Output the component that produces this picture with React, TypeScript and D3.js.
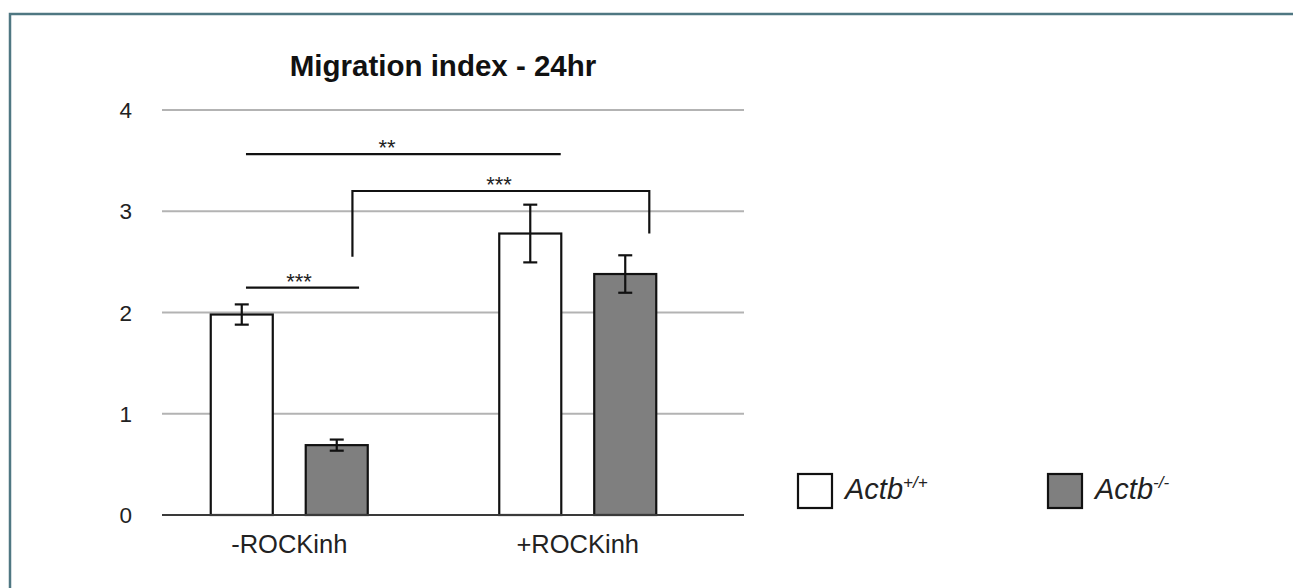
import * as d3 from 'd3';

// chart data
const categories = ['-ROCKinh', '+ROCKinh'];
const genotypes = ['wt', 'ko'];
const wtValues = [1.98, 2.78];
const wtErrors = [0.1, 0.285];
const koValues = [0.69, 2.38];
const koErrors = [0.055, 0.185];
const yTicks = [0, 1, 2, 3, 4];

// significance annotations, x in category units (0..2), y in data units
const sigLines = [
  { x1: 0.35, x2: 0.742, y: 2.245, label: '***', lx: 0.534 },
  { x1: 0.35, x2: 1.441, y: 3.565, label: '**', lx: 0.839 },
];
const sigBrackets = [
  { x1: 0.719, x2: 1.748, y: 3.2, yLeft: 2.55, yRight: 2.78, label: '***', lx: 1.227 },
];

const W = 1293;
const H = 588;
const FONT = '"Liberation Sans", Arial, sans-serif';

export default function App() {
  const y = d3.scaleLinear().domain([0, 4]).range([515, 110]);
  const x = d3.scaleBand().domain(categories).range([145, 722]);
  const xPos = d3.scaleLinear().domain([0, 2]).range([145, 722]);
  const sub = d3.scaleBand().domain(genotypes).range([-78.5, 78.5]).paddingInner(0.347);

  const gridX1 = 162;
  const gridX2 = 744;

  const bars = categories.flatMap((c, i) => [
    { cat: c, g: 'wt', v: wtValues[i], e: wtErrors[i], fill: '#ffffff' },
    { cat: c, g: 'ko', v: koValues[i], e: koErrors[i], fill: '#7f7f7f' },
  ]);

  return (
    <svg width={W} height={H} style={{ position: 'absolute', left: 0, top: 0, background: '#fff' }}>
      {/* frame */}
      <rect x={10} y={14} width={W + 20} height={H + 20} fill="#fff" stroke="#4f7782" strokeWidth={2.5} />

      <text x={443} y={76} textAnchor="middle" fontFamily={FONT} fontWeight="bold" fontSize={29.5} fill="#111">
        Migration index - 24hr
      </text>

      {/* grid + y labels */}
      {yTicks.map(t => (
        <g key={t}>
          {t > 0 && (
            <line x1={gridX1} x2={gridX2} y1={y(t)} y2={y(t)} stroke="#b3b3b3" strokeWidth={2} />
          )}
          <text x={132} y={y(t) + 8} textAnchor="end" fontFamily={FONT} fontSize={22.5} fill="#222">
            {t}
          </text>
        </g>
      ))}

      {/* bars */}
      {bars.map(b => {
        const cx = (x(b.cat) ?? 0) + x.bandwidth() / 2;
        const bx = cx + (sub(b.g) ?? 0);
        const bw = sub.bandwidth();
        const mid = bx + bw / 2;
        return (
          <g key={b.cat + b.g}>
            <rect x={bx} y={y(b.v)} width={bw} height={y(0) - y(b.v)} fill={b.fill} stroke="#111" strokeWidth={2.2} />
            <line x1={mid} x2={mid} y1={y(b.v + b.e)} y2={y(b.v - b.e)} stroke="#111" strokeWidth={2.2} />
            <line x1={mid - 7} x2={mid + 7} y1={y(b.v + b.e)} y2={y(b.v + b.e)} stroke="#111" strokeWidth={2.2} />
            <line x1={mid - 7} x2={mid + 7} y1={y(b.v - b.e)} y2={y(b.v - b.e)} stroke="#111" strokeWidth={2.2} />
          </g>
        );
      })}

      {/* zero axis */}
      <line x1={gridX1} x2={gridX2} y1={y(0)} y2={y(0)} stroke="#3a3a3a" strokeWidth={2} />

      {/* category labels */}
      {categories.map(c => (
        <text key={c} x={(x(c) ?? 0) + x.bandwidth() / 2} y={553} textAnchor="middle" fontFamily={FONT} fontSize={25.5} fill="#222">
          {c}
        </text>
      ))}

      {/* significance */}
      {sigLines.map((s, i) => (
        <g key={'l' + i}>
          <line x1={xPos(s.x1)} x2={xPos(s.x2)} y1={y(s.y)} y2={y(s.y)} stroke="#111" strokeWidth={2.2} />
          <text x={xPos(s.lx)} y={y(s.y) + 1} textAnchor="middle" fontFamily={FONT} fontSize={22} fill="#222">
            {s.label}
          </text>
        </g>
      ))}
      {sigBrackets.map((s, i) => (
        <g key={'b' + i}>
          <path
            d={`M${xPos(s.x1)},${y(s.yLeft)}V${y(s.y)}H${xPos(s.x2)}V${y(s.yRight)}`}
            fill="none"
            stroke="#111"
            strokeWidth={2.2}
          />
          <text x={xPos(s.lx)} y={y(s.y) + 1} textAnchor="middle" fontFamily={FONT} fontSize={22} fill="#222">
            {s.label}
          </text>
        </g>
      ))}

      {/* legend */}
      <g fontFamily={FONT} fill="#222">
        <rect x={798} y={474} width={34} height={34} fill="#fff" stroke="#111" strokeWidth={2.2} />
        <text x={845} y={499} fontSize={29} fontStyle="italic">
          Actb<tspan fontSize={17} dy={-11}>+/+</tspan>
        </text>
        <rect x={1048} y={474} width={34} height={34} fill="#7f7f7f" stroke="#111" strokeWidth={2.2} />
        <text x={1095} y={499} fontSize={29} fontStyle="italic">
          Actb<tspan fontSize={17} dy={-11}>-/-</tspan>
        </text>
      </g>
    </svg>
  );
}
